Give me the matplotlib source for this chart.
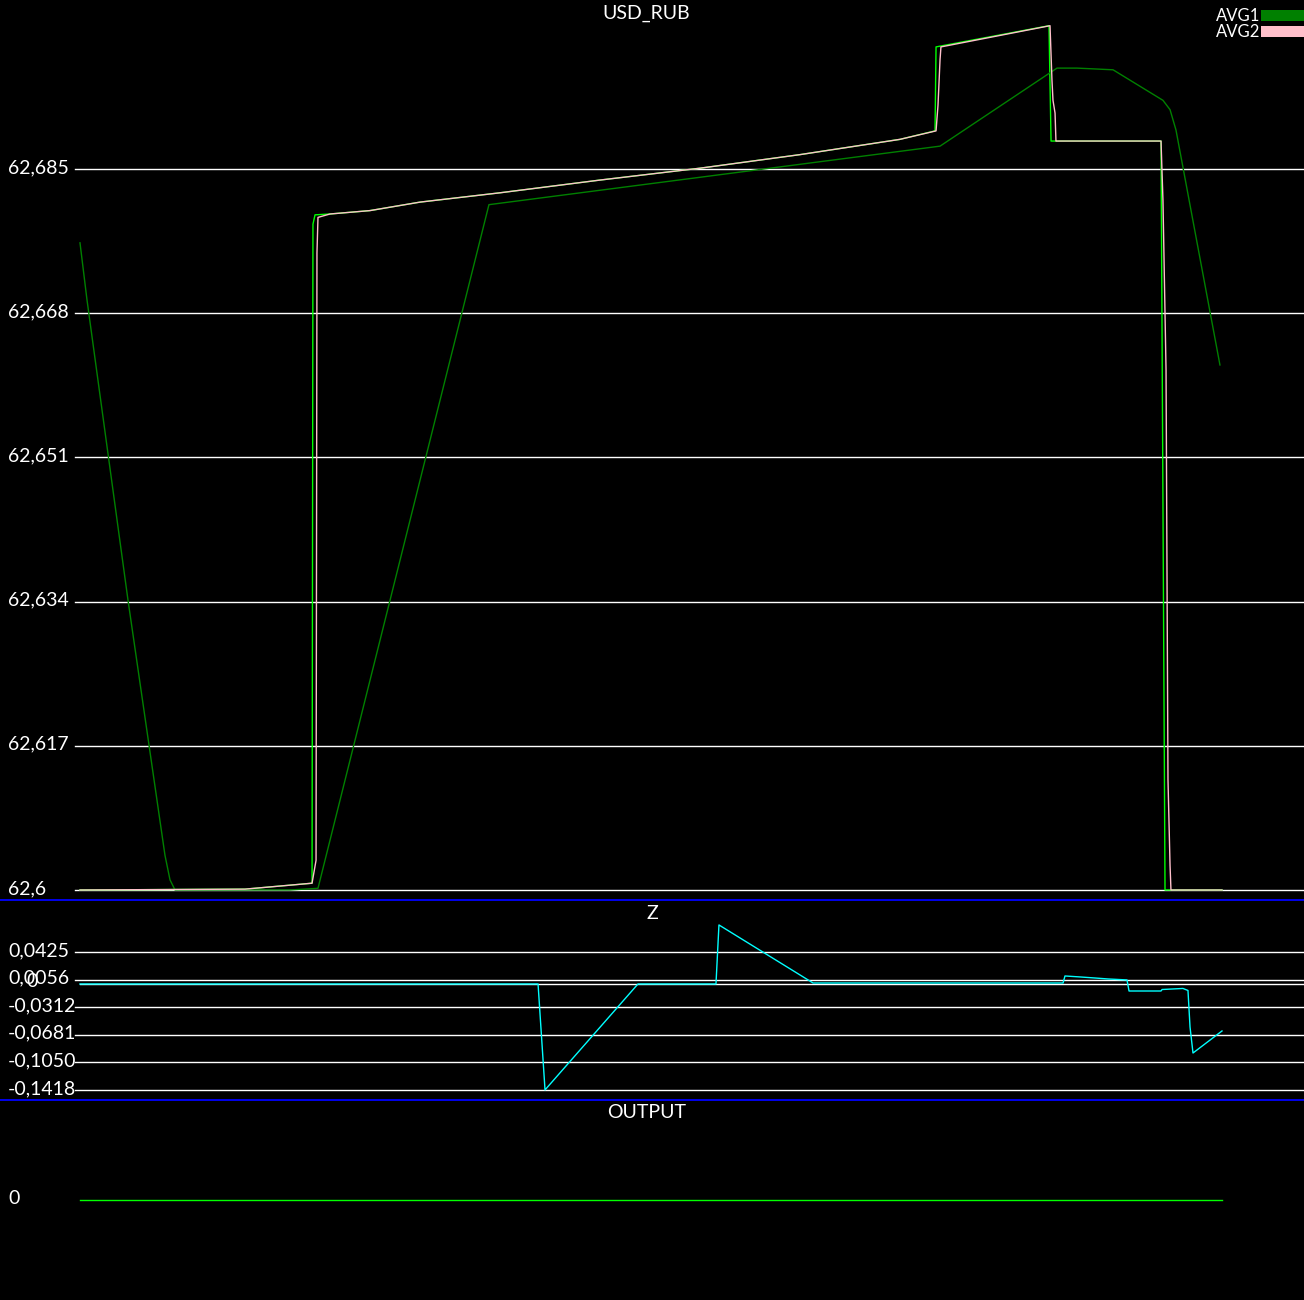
import matplotlib
matplotlib.use('Agg')
import matplotlib.pyplot as plt
import matplotlib.transforms as mtransforms
from matplotlib.patches import Rectangle

W, H = 1304, 1300
FONT = 'Lato'

# --- data (time index 0..100) ---
price_t = [0, 14.45, 20.32, 20.40, 20.58, 21.89, 25.39, 29.77, 36.78, 45.53, 54.29,
           63.05, 71.80, 74.87, 74.96, 84.85, 85.03, 94.66, 95.01, 100]
price_v = [62.6, 62.6001, 62.6008, 62.6785, 62.6796, 62.6797, 62.6801, 62.6811, 62.6822,
           62.6837, 62.6851, 62.6867, 62.6885, 62.6895, 62.6994, 62.7019, 62.6883,
           62.6883, 62.6, 62.6]

avg1_t = [0, 0.61, 4.20, 7.44, 7.88, 8.32, 18.39, 20.84, 35.81, 75.31, 85.55, 87.30,
          90.46, 94.83, 95.45, 95.97, 99.82]
avg1_v = [62.6763, 62.6696, 62.6342, 62.6041, 62.6012, 62.6, 62.6, 62.6002, 62.6808,
          62.6877, 62.6969, 62.6969, 62.6967, 62.6931, 62.6920, 62.6896, 62.6619]

avg2_t = [0, 14.45, 20.32, 20.67, 20.75, 20.84, 21.89, 25.39, 29.77, 36.78, 45.53,
          54.29, 63.05, 71.80, 74.96, 75.13, 75.31, 75.39, 84.94, 85.11, 85.20, 85.38,
          85.46, 94.66, 94.83, 95.10, 95.27, 95.45, 95.53, 100]
avg2_v = [62.6, 62.6001, 62.6008, 62.6035, 62.6751, 62.6793, 62.6797, 62.6801, 62.6811,
          62.6822, 62.6837, 62.6851, 62.6867, 62.6885, 62.6895, 62.6925, 62.6979,
          62.6994, 62.7019, 62.6955, 62.6931, 62.6916, 62.6883, 62.6883, 62.6813,
          62.6613, 62.6130, 62.6029, 62.6, 62.6]

z_t = [0, 40.11, 40.72, 48.86, 55.69, 55.95, 64.19, 86.08, 86.25, 87.57, 88.88, 90.02,
       91.68, 91.86, 94.66, 94.75, 96.58, 97.02, 97.20, 97.46, 100]
z_v = [0, 0, -0.1418, 0, 0, 0.0790, 0.0013, 0.0013, 0.0107, 0.0094, 0.0080, 0.0067,
       0.0054, -0.0094, -0.0094, -0.0074, -0.0060, -0.0087, -0.0576, -0.0924, -0.0629]

out_t = [0, 100]
out_v = [0, 0]

price_ticks = [62.6, 62.617, 62.634, 62.651, 62.668, 62.685]
z_ticks = [-0.1418, -0.1050, -0.0681, -0.0312, 0.0056, 0.0425]
out_ticks = [0]

fig = plt.figure(figsize=(W / 100, H / 100), dpi=100, facecolor='black')


def px_axes(top, bottom):
    ax = fig.add_axes([0, 1 - bottom / H, 1, (bottom - top) / H])
    ax.set_facecolor('black')
    for s in ax.spines.values():
        s.set_visible(False)
    ax.set_xticks([])
    ax.set_yticks([])
    ax.set_xlim(-7.005, 107.18)
    return ax


def tick_labels(ax, ticks, labels, x_px=8):
    tr = mtransforms.offset_copy(ax.get_yaxis_transform(), fig=fig, x=0, y=-4, units='dots')
    for v, lab in zip(ticks, labels):
        ax.axhline(v, xmin=75 / W, xmax=1, color='white', lw=1.0, zorder=1)
        ax.text(x_px / W, v, lab, transform=tr, color='white', fontsize=14,
                family=FONT, ha='left', va='baseline')


# top panel
ax1 = px_axes(0, 900)
ax1.set_ylim(62.59882, 62.70493)
tick_labels(ax1, price_ticks, [str(v).replace('.', ',') for v in price_ticks])
ax1.plot(price_t, price_v, color='#00ff00', lw=1.0, zorder=3)
ax1.plot(avg1_t, avg1_v, color='#008000', lw=1.0, zorder=4)
ax1.plot(avg2_t, avg2_v, color='#ffc0cb', lw=1.0, zorder=5)

# Z panel
ax2 = px_axes(900, 1100)
ax2.set_ylim(-0.1553, 0.1124)
tick_labels(ax2, z_ticks, [f"{v:.4f}".replace('.', ',') for v in z_ticks])
ax2.axhline(0, xmin=80 / W, xmax=1, color='white', lw=1.0, zorder=1)
ax2.text(26 / W, 0, '0', color='white', fontsize=14, family=FONT, ha='left', va='baseline',
         transform=mtransforms.offset_copy(ax2.get_yaxis_transform(), fig=fig, y=-3, units='dots'))
ax2.plot(z_t, z_v, color='#00ffff', lw=1.0, zorder=3)

# OUTPUT panel
ax3 = px_axes(1100, 1300)
ax3.set_ylim(-1, 1)
tr3 = mtransforms.offset_copy(ax3.get_yaxis_transform(), fig=fig, y=-4, units='dots')
for v in out_ticks:
    ax3.text(8 / W, v, str(v), transform=tr3, color='white', fontsize=14, family=FONT,
             ha='left', va='baseline')
ax3.plot(out_t, out_v, color='#00ff00', lw=1.0, zorder=3)

# titles
for label, x, y in [('USD_RUB', 646, 19), ('Z', 652, 919), ('OUTPUT', 647, 1118)]:
    fig.text(x / W, 1 - y / H, label, color='white', fontsize=14, family=FONT,
             ha='center', va='baseline')

# separators
for y in [900, 1100]:
    fig.add_artist(plt.Line2D([0, 1], [1 - y / H, 1 - y / H], color='#0000ff', lw=1.3,
                              transform=fig.transFigure))

# legend
for name, color, y0, y1 in [('AVG1', '#008000', 10, 21), ('AVG2', '#ffc0cb', 26, 37)]:
    fig.add_artist(Rectangle((1261 / W, 1 - y1 / H), 43 / W, (y1 - y0) / H,
                             transform=fig.transFigure, color=color, lw=0))
    fig.text(1260 / W, 1 - y1 / H, name, color='white', fontsize=12, family=FONT,
             ha='right', va='baseline')

fig.savefig('out.png', dpi=100, facecolor='black')
